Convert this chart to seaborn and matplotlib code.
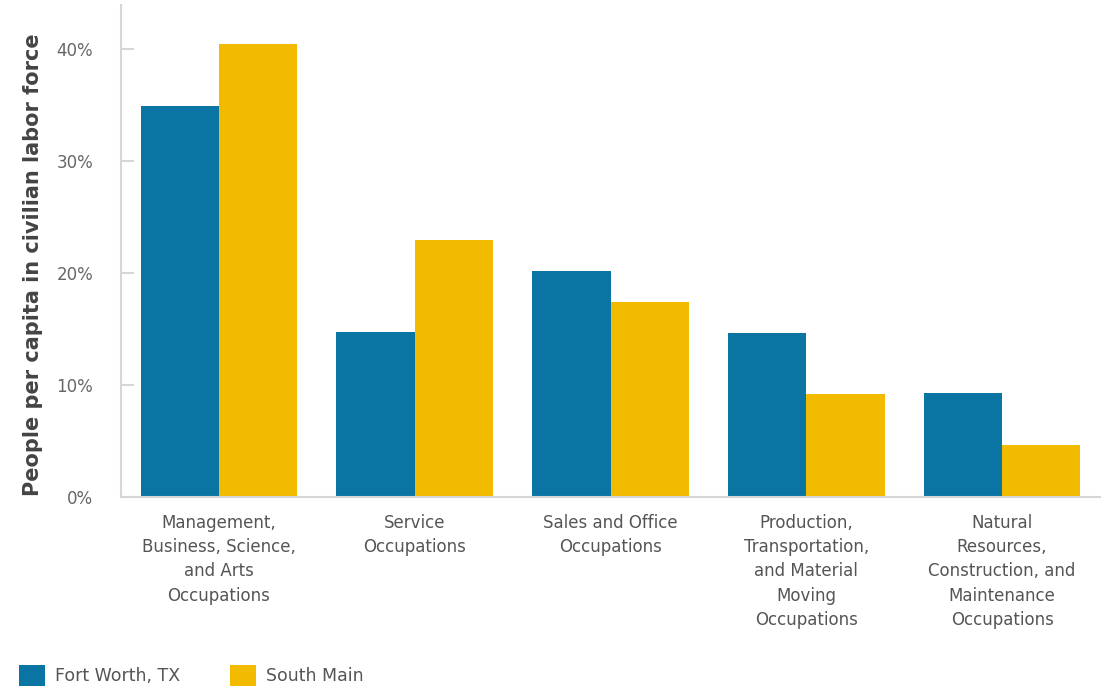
import matplotlib
matplotlib.use("Agg")
import matplotlib.pyplot as plt
import seaborn as sns
import pandas as pd
from matplotlib.patches import Patch

categories = [
    "Management,\nBusiness, Science,\nand Arts\nOccupations",
    "Service\nOccupations",
    "Sales and Office\nOccupations",
    "Production,\nTransportation,\nand Material\nMoving\nOccupations",
    "Natural\nResources,\nConstruction, and\nMaintenance\nOccupations",
]
fort_worth = [34.9, 14.7, 20.2, 14.6, 9.3]
south_main = [40.4, 22.9, 17.4, 9.2, 4.6]
series_names = ["Fort Worth, TX", "South Main"]
colors = ["#0a74a3", "#f2bb00"]
yticks = [0, 10, 20, 30, 40]
ytick_labels = ["0%", "10%", "20%", "30%", "40%"]

df = pd.DataFrame({
    "category": categories * 2,
    "value": fort_worth + south_main,
    "series": [series_names[0]] * len(categories) + [series_names[1]] * len(categories),
})

sns.set_theme(style="white")
plt.rcParams["font.family"] = ["DejaVu Sans"]

fig = plt.figure(figsize=(11.12, 6.93), dpi=100)
ax = fig.add_axes([121/1112, 1 - 497/693, (1100-121)/1112, (497-5)/693])

sns.barplot(data=df, x="category", y="value", hue="series", palette=colors,
            hue_order=series_names, order=categories, width=0.8, ax=ax,
            saturation=1, legend=False, linewidth=0)

ax.set_xlim(-0.5, len(categories) - 0.5)
ax.set_ylim(0, 43.9)
ax.set_yticks(yticks)
ax.set_yticklabels(ytick_labels)
ax.set_xlabel("")
ax.set_ylabel("People per capita in civilian labor force", fontsize=15,
              fontweight="bold", color="#444444")
ax.yaxis.set_label_coords(-0.0797, 0.4715)

for s in ["top", "right"]:
    ax.spines[s].set_visible(False)
for s in ["left", "bottom"]:
    ax.spines[s].set_color("#d6d6d6")
    ax.spines[s].set_linewidth(1.5)

ax.tick_params(axis="y", direction="in", length=9, width=1.5, color="#d6d6d6",
               labelsize=12, labelcolor="#666666", pad=20, left=True)
ax.tick_params(axis="x", length=0, labelsize=12, labelcolor="#555555", pad=12)

for lbl in ax.get_xticklabels():
    lbl.set_linespacing(1.45)
    lbl.set_verticalalignment("top")

handles = [Patch(facecolor=c, edgecolor="none", label=n) for c, n in zip(colors, series_names)]
fig.legend(handles=handles, loc="lower left", bbox_to_anchor=(0.003, -0.012), ncol=2,
           frameon=False, fontsize=12.5, handlelength=1.5, handleheight=1.5,
           columnspacing=2.9, handletextpad=0.55, labelcolor="#555555")

fig.savefig("out.png", dpi=100)
